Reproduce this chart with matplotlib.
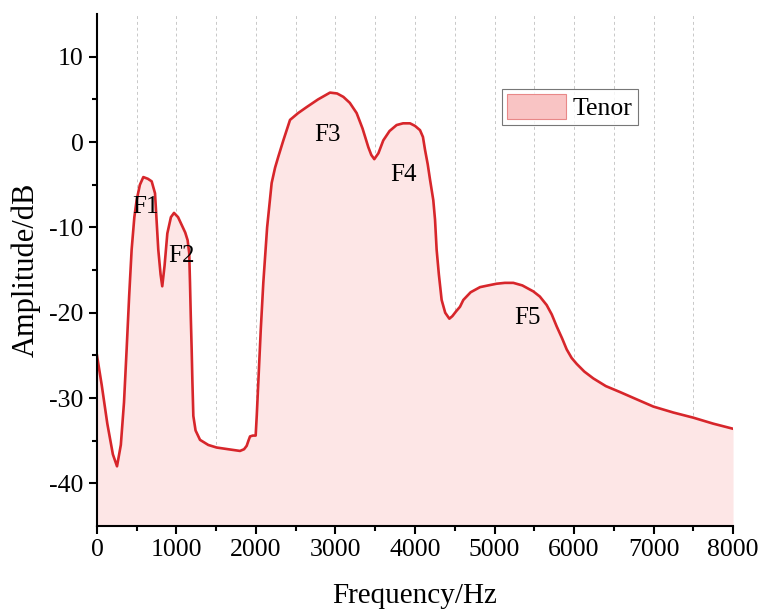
import numpy as np
import matplotlib.pyplot as plt
from matplotlib.patches import Patch

plt.rcParams['font.family'] = ['Liberation Serif', 'DejaVu Serif']
plt.rcParams['axes.unicode_minus'] = False

# Tenor spectrum envelope (Hz, dB)
freq = [0, 60, 130, 200, 252, 300, 340, 373, 405, 436, 470, 499, 540, 583,
        640, 688, 730, 771, 800, 821, 850, 885, 930, 969, 1020, 1065, 1110,
        1140, 1160, 1170, 1180, 1191, 1200, 1212, 1240, 1296, 1400, 1505,
        1650, 1799, 1850, 1883, 1905, 1925, 1960, 1996, 2010, 2029, 2060,
        2092, 2140, 2197, 2240, 2281, 2344, 2428, 2530, 2637, 2780, 2931,
        3020, 3099, 3180, 3266, 3340, 3413, 3450, 3488, 3540, 3601, 3680,
        3769, 3850, 3937, 4000, 4063, 4100, 4126, 4160, 4189, 4230, 4252,
        4272, 4300, 4335, 4380, 4432, 4470, 4520, 4566, 4608, 4700, 4818,
        4920, 5027, 5130, 5237, 5350, 5488, 5570, 5656, 5720, 5782, 5850,
        5908, 5970, 6034, 6130, 6243, 6400, 6579, 6800, 6998, 7250, 7500,
        7750, 8000]
amp = [-25.0, -28.5, -33.0, -36.6, -38.0, -35.5, -30.5, -24.3, -18.0, -12.6,
       -8.8, -6.8, -5.0, -4.1, -4.3, -4.6, -6.0, -12.6, -15.5, -16.9, -14.5,
       -10.7, -8.8, -8.3, -8.8, -9.7, -10.6, -11.5, -13.0, -16.5, -20.5,
       -24.3, -28.0, -32.1, -33.8, -34.9, -35.5, -35.8, -36.0, -36.2, -36.0,
       -35.6, -35.0, -34.5, -34.4, -34.4, -32.0, -28.2, -22.0, -16.5, -10.0,
       -4.8, -3.0, -1.7, 0.2, 2.6, 3.4, 4.1, 5.0, 5.8, 5.7, 5.3, 4.6, 3.4,
       1.6, -0.6, -1.5, -2.0, -1.3, 0.2, 1.3, 2.0, 2.2, 2.2, 1.9, 1.4, 0.6,
       -0.9, -2.6, -4.4, -6.8, -9.1, -12.6, -15.5, -18.5, -20.0, -20.7,
       -20.4, -19.8, -19.3, -18.5, -17.6, -17.0, -16.8, -16.6, -16.5, -16.5,
       -16.8, -17.5, -18.1, -19.1, -20.2, -21.6, -23.0, -24.3, -25.3, -26.0,
       -26.9, -27.7, -28.6, -29.3, -30.2, -31.0, -31.7, -32.3, -33.0, -33.6]

labels = ['F1', 'F2', 'F3', 'F4', 'F5']
label_f = [604, 1069, 2893, 3849, 5409]
label_db = [-7.6, -13.3, 0.8, -3.9, -20.6]

fig = plt.figure(figsize=(7.6, 6.14), dpi=100)
ax = fig.add_axes([0.1276, 0.1433, 0.8369, 0.8337])

line_col = '#d7262b'
ax.fill_between(freq, amp, -45, color='#fde6e6', lw=0)
ax.plot(freq, amp, color=line_col, lw=1.9, solid_joinstyle='round')

for xg in np.arange(500, 8000, 500):
    ax.axvline(xg, color='#c8c8c8', lw=0.7, ls=(0, (3, 3)), zorder=0)

for t, xf, yd in zip(labels, label_f, label_db):
    ax.text(xf, yd, t, fontsize=18, ha='center', va='center')

ax.set_xlim(0, 8000)
ax.set_ylim(-45, 15)
ax.set_xticks(np.arange(0, 8001, 1000))
ax.set_xticks(np.arange(500, 8000, 1000), minor=True)
ax.set_yticks([-40, -30, -20, -10, 0, 10])
ax.set_yticks(np.arange(-35, 15, 10), minor=True)
ax.tick_params(which='major', direction='out', length=6, width=1.5,
               labelsize=18.5)
ax.tick_params(which='minor', direction='out', length=3.5, width=1.5)
for s in ['top', 'right']:
    ax.spines[s].set_visible(False)
for s in ['left', 'bottom']:
    ax.spines[s].set_linewidth(1.5)

ax.set_xlabel('Frequency/Hz', fontsize=21)
ax.set_ylabel('Amplitude/dB', fontsize=22)
ax.xaxis.set_label_coords(0.5, -0.112)
ax.yaxis.set_label_coords(-0.089, 0.5)

handle = Patch(facecolor='#f9c4c4', edgecolor='#e88888', lw=0.8)
leg = ax.legend([handle], ['Tenor'], loc='upper left',
                bbox_to_anchor=(0.637, 0.8535), borderaxespad=0,
                fontsize=18.5, frameon=True, fancybox=False,
                edgecolor='#555555', handlelength=2.3, handleheight=1.1,
                borderpad=0.2, handletextpad=0.25)
leg.get_frame().set_linewidth(0.8)

fig.savefig('out.png', dpi=100)
